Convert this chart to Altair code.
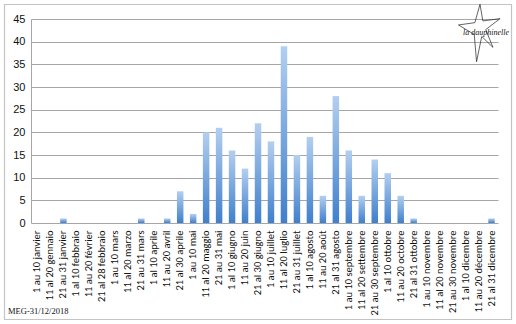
import altair as alt
import pandas as pd

periods = [
    "1 au 10 janvier", "11 al 20 gennaio", "21 au 31 janvier",
    "1 al 10 febbraio", "11 au 20 février", "21 al 28 febbraio",
    "1 au 10 mars", "11 al 20 marzo", "21 au 31 mars",
    "1 al 10 aprile", "11 au 20 avril", "21 al 30 aprile",
    "1 au 10 mai", "11 al 20 maggio", "21 au 31 mai",
    "1 al 10 giugno", "11 au 20 juin", "21 al 30 giugno",
    "1 au 10 juillet", "11 al 20 luglio", "21 au 31 juillet",
    "1 al 10 agosto", "11 au 20 août", "21 al 31 agosto",
    "1 au 10 septembre", "11 al 20 settembre", "21 au 30 septembre",
    "1 al 10 ottobre", "11 au 20 octobre", "21 al 31 ottobre",
    "1 au 10 novembre", "11 al 20 novembre", "21 au 30 novembre",
    "1 al 10 dicembre", "11 au 20 décembre", "21 al 31 dicembre",
]
counts = [0, 0, 1, 0, 0, 0, 0, 0, 1, 0, 1, 7, 2, 20, 21, 16, 12, 22,
          18, 39, 15, 19, 6, 28, 16, 6, 14, 11, 6, 1, 0, 0, 0, 0, 0, 1]
y_ticks = [0, 5, 10, 15, 20, 25, 30, 35, 40, 45]

df = pd.DataFrame({"period": periods, "count": counts})
one = alt.Data(values=[{"k": 1}])

W, H = 467, 204
PL, PT = 31, 19

gradient = alt.LinearGradient(
    gradient="linear",
    stops=[alt.GradientStop(color="#b3cff0", offset=0),
           alt.GradientStop(color="#3f7fcc", offset=1)],
    x1=0, x2=0, y1=0, y2=1,
)

bars = alt.Chart(df).mark_bar(color=gradient).encode(
    x=alt.X("period:N", sort=periods,
            scale=alt.Scale(paddingInner=0.5, paddingOuter=0.25),
            axis=alt.Axis(title=None, labelAngle=-90, labelFontSize=10.5,
                          labelFont="Carlito, Liberation Sans Narrow, Liberation Sans",
                          labelColor="#111111", labelPadding=7, ticks=False,
                          domain=False, labelOverlap=False)),
    y=alt.Y("count:Q", scale=alt.Scale(domain=[0, 45], nice=False),
            axis=alt.Axis(title=None, values=y_ticks, labelFontSize=11,
                          labelFont="Liberation Sans", labelColor="#111111",
                          labelPadding=6, ticks=False, grid=True,
                          gridColor="#a6a6a6", gridWidth=1,
                          domain=True, domainColor="#a6a6a6")),
)

border = alt.Chart(one).mark_rect(fill=None, stroke="#c4c4c4", strokeWidth=1.2).encode(
    x=alt.value(4.5 - PL), x2=alt.value(511.5 - PL),
    y=alt.value(4.5 - PT), y2=alt.value(319.5 - PT),
)

flower_path = ("M0,-1 L0.1,-0.42 L0.7,-0.5 L0.2,-0.12 L0.45,0.5 L0.06,0.12 "
               "L-0.12,1 L-0.2,0.05 L-0.75,-0.28 L-0.18,-0.36 Z")
logo = alt.Chart(one).mark_point(shape=flower_path, filled=False,
                                 strokeWidth=0.7, size=3300, opacity=1).encode(
    x=alt.value(480 - PL), y=alt.value(33 - PT),
    stroke=alt.value("#222222"),
)
logo_text = alt.Chart(one).mark_text(text="la dauphinelle", font="Liberation Serif",
                                     fontStyle="italic", fontSize=8, fill="#111111",
                                     opacity=1, align="left", baseline="middle").encode(
    x=alt.value(463 - PL), y=alt.value(33 - PT),
)
footer = alt.Chart(one).mark_text(text="MEG-31/12/2018", font="Liberation Serif",
                                  fontSize=8.5, fill="#111111", align="left",
                                  baseline="middle").encode(
    x=alt.value(8 - PL), y=alt.value(311 - PT),
)

chart = alt.layer(bars, border, logo, logo_text, footer).properties(
    width=W, height=H,
    autosize=alt.AutoSizeParams(type="none"),
    padding={"left": PL, "top": PT, "right": 516 - PL - W, "bottom": 324 - PT - H},
    background="white",
).configure_view(stroke=None)

chart.save("out.html", embed_options={"renderer": "svg", "actions": False})
